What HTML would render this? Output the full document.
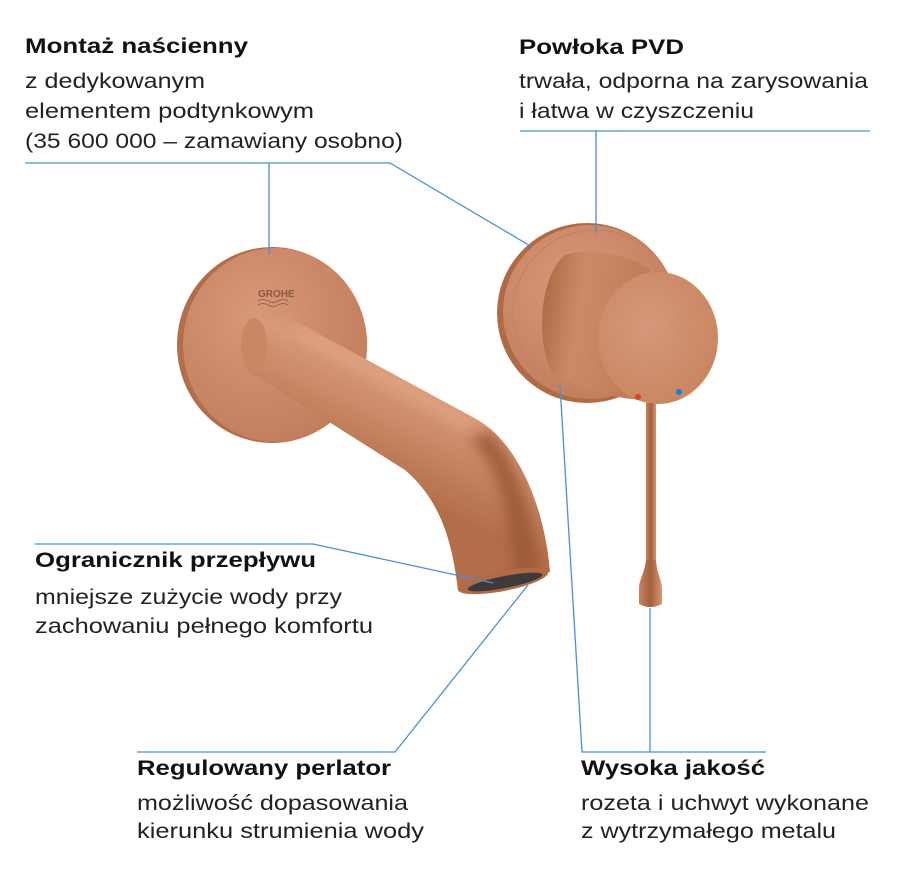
<!DOCTYPE html>
<html><head><meta charset="utf-8"><style>
html,body{margin:0;padding:0;background:#fff;}
svg{display:block;}
.h{font-family:"Liberation Sans",sans-serif;font-weight:bold;font-size:21px;fill:#111;}
.b{font-family:"Liberation Sans",sans-serif;font-size:21px;fill:#222;}
.l{stroke:#4a8fd6;stroke-width:1.3;fill:none;}
</style></head><body>
<svg width="900" height="895" viewBox="0 0 900 895" xmlns="http://www.w3.org/2000/svg">
<defs>
<radialGradient id="ros" cx="0.4" cy="0.35" r="0.75">
<stop offset="0" stop-color="#d8987a"/><stop offset="1" stop-color="#c07b59"/></radialGradient>
<linearGradient id="tube" x1="0.45" y1="0" x2="0.2" y2="0.5">
<stop offset="0" stop-color="#c8845f"/><stop offset="0.4" stop-color="#d89a79"/><stop offset="1" stop-color="#b36d49"/></linearGradient>
<linearGradient id="cyl" x1="0" y1="0" x2="1" y2="0.2">
<stop offset="0" stop-color="#a9643f"/><stop offset="0.4" stop-color="#cc8b67"/><stop offset="1" stop-color="#c07b57"/></linearGradient>
<linearGradient id="lev" x1="0" y1="0" x2="1" y2="0">
<stop offset="0" stop-color="#c8845f"/><stop offset="0.5" stop-color="#a45f3c"/><stop offset="1" stop-color="#d69676"/></linearGradient>
<radialGradient id="face" cx="0.4" cy="0.4" r="0.7">
<stop offset="0" stop-color="#d5987a"/><stop offset="1" stop-color="#c8855f"/></radialGradient>
<filter id="bl"><feGaussianBlur stdDeviation="6"/></filter>
<clipPath id="tc"><path d="M250,322 C258,314 272,314 288,317 L478,420 C520,445 545,510 550,572 L458,590 C452,540 440,500 405,470 L250,372 C238,360 240,332 250,322 Z"/></clipPath>
</defs>

<!-- left rosette -->
<ellipse cx="272" cy="345" rx="95" ry="98" fill="#b36d49"/>
<ellipse cx="275" cy="345" rx="92" ry="97" fill="url(#ros)"/>
<text x="258" y="297" font-family="Liberation Sans,sans-serif" font-weight="bold" font-size="10" fill="#8a5a45">GROHE</text>
<path d="M258,301 q5,-3 10,0 t10,0 t10,0 M258,305 q5,-3 10,0 t10,0 t10,0" stroke="#8a5a45" stroke-width="0.8" fill="none"/>

<!-- spout -->
<g clip-path="url(#tc)">
<rect x="230" y="300" width="340" height="300" fill="url(#tube)"/>
<path d="M470,440 C500,470 512,520 515,590 L540,590 C536,520 520,465 490,430 Z" fill="#9a5635" filter="url(#bl)" opacity="0.8"/>
<path d="M300,330 L470,425" stroke="#e0a585" stroke-width="14" filter="url(#bl)" opacity="0.7"/>
</g>
<ellipse cx="254" cy="345" rx="13" ry="27" fill="#c98763"/>
<ellipse cx="503" cy="581" rx="46" ry="10" transform="rotate(-11 503 581)" fill="#b06a47"/>
<ellipse cx="505" cy="582" rx="38" ry="6" transform="rotate(-11 505 582)" fill="#3e3a3a"/>

<!-- right rosette -->
<circle cx="587" cy="313" r="90" fill="#b06a46"/>
<circle cx="590" cy="312" r="87" fill="url(#ros)"/>
<circle cx="595" cy="312" r="82" fill="none" stroke="#c4805c" stroke-width="1"/>
<path d="M565,255 C585,248 625,252 650,270 L650,400 C610,400 572,385 552,372 C535,340 540,275 565,255 Z" fill="url(#cyl)"/>
<ellipse cx="658" cy="338" rx="60" ry="66" fill="url(#face)"/>
<circle cx="638" cy="397" r="3" fill="#e8401c"/>
<circle cx="679" cy="392" r="3" fill="#1a7fd6"/>
<!-- lever -->
<rect x="646" y="403" width="10" height="170" fill="url(#lev)"/>
<path d="M646,560 C644,575 639,580 639,588 L639,604 Q650,610 662,604 L662,588 C662,580 657,575 656,560 Z" fill="url(#lev)"/>

<!-- leader lines -->
<path class="l" d="M25,163 H390 L532,247 M269,163 V255"/>
<path class="l" d="M520,131 H870 M596,131 V233"/>
<path class="l" d="M35,544 H313 L493,583"/>
<path class="l" d="M137,752 H395 L528,585"/>
<path class="l" d="M560,385 L582,752 H766 M650,608 V752"/>

<!-- texts -->
<text class="h" x="25" y="53" textLength="223" lengthAdjust="spacingAndGlyphs">Montaż naścienny</text>
<text class="b" x="25" y="88" textLength="180" lengthAdjust="spacingAndGlyphs">z dedykowanym</text>
<text class="b" x="25" y="118" textLength="289" lengthAdjust="spacingAndGlyphs">elementem podtynkowym</text>
<text class="b" x="25" y="148" textLength="378" lengthAdjust="spacingAndGlyphs">(35 600 000 – zamawiany osobno)</text>

<text class="h" x="519" y="54" textLength="165" lengthAdjust="spacingAndGlyphs">Powłoka PVD</text>
<text class="b" x="519" y="88" textLength="349" lengthAdjust="spacingAndGlyphs">trwała, odporna na zarysowania</text>
<text class="b" x="519" y="118" textLength="235" lengthAdjust="spacingAndGlyphs">i łatwa w czyszczeniu</text>

<text class="h" x="35" y="567" textLength="281" lengthAdjust="spacingAndGlyphs">Ogranicznik przepływu</text>
<text class="b" x="35" y="604" textLength="307" lengthAdjust="spacingAndGlyphs">mniejsze zużycie wody przy</text>
<text class="b" x="35" y="633" textLength="338" lengthAdjust="spacingAndGlyphs">zachowaniu pełnego komfortu</text>

<text class="h" x="137" y="775" textLength="254" lengthAdjust="spacingAndGlyphs">Regulowany perlator</text>
<text class="b" x="137" y="810" textLength="271" lengthAdjust="spacingAndGlyphs">możliwość dopasowania</text>
<text class="b" x="137" y="838" textLength="287" lengthAdjust="spacingAndGlyphs">kierunku strumienia wody</text>

<text class="h" x="581" y="775" textLength="184" lengthAdjust="spacingAndGlyphs">Wysoka jakość</text>
<text class="b" x="581" y="810" textLength="288" lengthAdjust="spacingAndGlyphs">rozeta i uchwyt wykonane</text>
<text class="b" x="581" y="838" textLength="255" lengthAdjust="spacingAndGlyphs">z wytrzymałego metalu</text>
</svg>
</body></html>
